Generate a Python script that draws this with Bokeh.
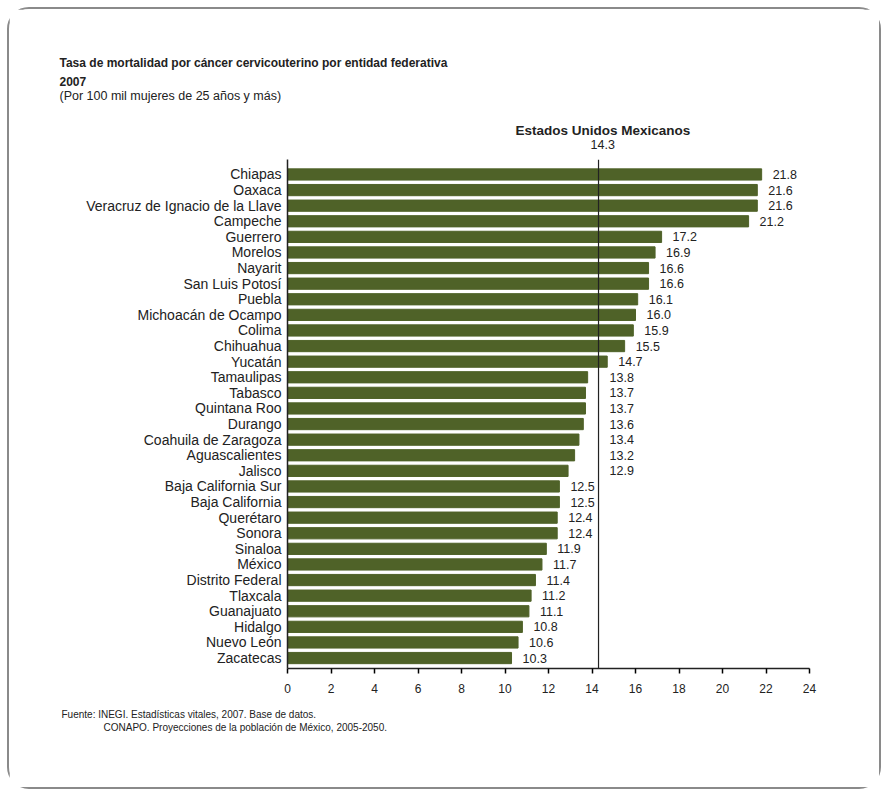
import numpy as np
from bokeh.plotting import figure
from bokeh.models import ColumnDataSource, Range1d, FixedTicker, Span, Title
from bokeh.core.properties import value
from bokeh.embed import file_html
from bokeh.resources import INLINE

states = ["Chiapas", "Oaxaca", "Veracruz de Ignacio de la Llave", "Campeche", "Guerrero",
          "Morelos", "Nayarit", "San Luis Potosí", "Puebla", "Michoacán de Ocampo", "Colima",
          "Chihuahua", "Yucatán", "Tamaulipas", "Tabasco", "Quintana Roo", "Durango",
          "Coahuila de Zaragoza", "Aguascalientes", "Jalisco", "Baja California Sur",
          "Baja California", "Querétaro", "Sonora", "Sinaloa", "México", "Distrito Federal",
          "Tlaxcala", "Guanajuato", "Hidalgo", "Nuevo León", "Zacatecas"]
rates = [21.8, 21.6, 21.6, 21.2, 17.2, 16.9, 16.6, 16.6, 16.1, 16.0, 15.9, 15.5, 14.7,
         13.8, 13.7, 13.7, 13.6, 13.4, 13.2, 12.9, 12.5, 12.5, 12.4, 12.4, 11.9, 11.7,
         11.4, 11.2, 11.1, 10.8, 10.6, 10.3]
national = 14.3
national_label = "Estados Unidos Mexicanos"
x_ticks = list(range(0, 25, 2))

title1 = "Tasa de mortalidad por cáncer cervicouterino por entidad federativa"
title2 = "2007"
subtitle = "(Por 100 mil mujeres de 25 años y más)"
source1 = "Fuente: INEGI. Estadísticas vitales, 2007. Base de datos."
source2 = "CONAPO. Proyecciones de la población de México, 2005-2050."

n = len(states)
ypos = [n - 1 - i for i in range(n)]
r = np.array(rates)
# labels that would collide with the national line are moved past it
lab_x = np.where((r < national) & (r > national - 1.5), national, r)

src = ColumnDataSource(dict(y=ypos, rate=rates, lab_x=lab_x,
                            lab=[f"{v:.1f}" for v in rates]))

FONT = "Liberation Sans"
W, H = 874, 782
FL, FR = 278, 74
p = figure(width=W, height=H, x_range=Range1d(0, 24), y_range=Range1d(-0.67, n - 0.04),
           output_backend="svg", toolbar_location=None,
           min_border_left=FL, min_border_right=FR, min_border_top=150, min_border_bottom=123)
p.styles = {"border": "2px solid #8a8a8a", "border-radius": "22px",
            "margin-left": "7px", "margin-top": "7px"}
p.background_fill_color = "white"
p.border_fill_color = "white"
p.outline_line_color = None
p.xgrid.visible = False
p.ygrid.visible = False

p.hbar(y="y", right="rate", left=0, height=0.72, color="#4F6228", source=src)
p.text(x="lab_x", y="y", text="lab", source=src, x_offset=11, text_font=value(FONT),
       text_font_size="12.5px", text_baseline="middle", text_align="left", text_color="#222222")

p.add_layout(Span(location=national, dimension="height", line_color="#222222", line_width=1.2))

xa = p.xaxis[0]
xa.ticker = FixedTicker(ticks=x_ticks)
xa.major_tick_out = 5
xa.major_tick_in = 0
xa.minor_tick_out = 0
xa.minor_tick_in = 0
xa.axis_line_color = "#222222"
xa.axis_line_width = 1.5
xa.major_tick_line_width = 1.5
xa.major_label_standoff = 10
xa.major_label_text_font = FONT
xa.major_label_text_font_size = "12px"
xa.major_label_text_color = "#222222"

ya = p.yaxis[0]
ya.ticker = FixedTicker(ticks=ypos)
ya.major_label_overrides = {y: s for y, s in zip(ypos, states)}
ya.major_tick_out = 0
ya.major_tick_in = 0
ya.minor_tick_out = 0
ya.minor_tick_in = 0
ya.axis_line_color = "#222222"
ya.axis_line_width = 1.5
ya.major_label_standoff = 6
ya.major_label_text_font = FONT
ya.major_label_text_font_size = "14px"
ya.major_label_text_color = "#222222"

FRAME_W = W - FL - FR
px_per_unit = FRAME_W / 24.0

def ttl(text, size, where, offset=0, bold=False, standoff=0):
    t = Title(text=text, text_font=FONT, text_font_size=size,
              text_font_style="bold" if bold else "normal", align="left",
              offset=offset, standoff=standoff, text_color="#222222")
    p.add_layout(t, where)
    return t

# above: first added sits nearest the frame
nat_px = national * px_per_unit
ttl(" ", "1px", "above", standoff=8)                       # spacer
ttl(f"{national}", "12.5px", "above", offset=nat_px - 11 + 3)
ttl(national_label, "13.5px", "above", offset=nat_px - 87 + 4, bold=True)
ttl(" ", "1px", "above", standoff=15)                      # spacer
ttl(subtitle, "12.5px", "above", offset=60 - 288)
ttl(title2, "12px", "above", offset=60 - 288, bold=True, standoff=2)
ttl(title1, "12px", "above", offset=60 - 288, bold=True, standoff=8)
# below: first added sits nearest the axis
ttl(" ", "1px", "below", standoff=8)                       # spacer
ttl(source1, "10px", "below", offset=62 - 288)
ttl(source2, "10px", "below", offset=104 - 288)

open("out.html", "w").write(file_html(p, INLINE))
